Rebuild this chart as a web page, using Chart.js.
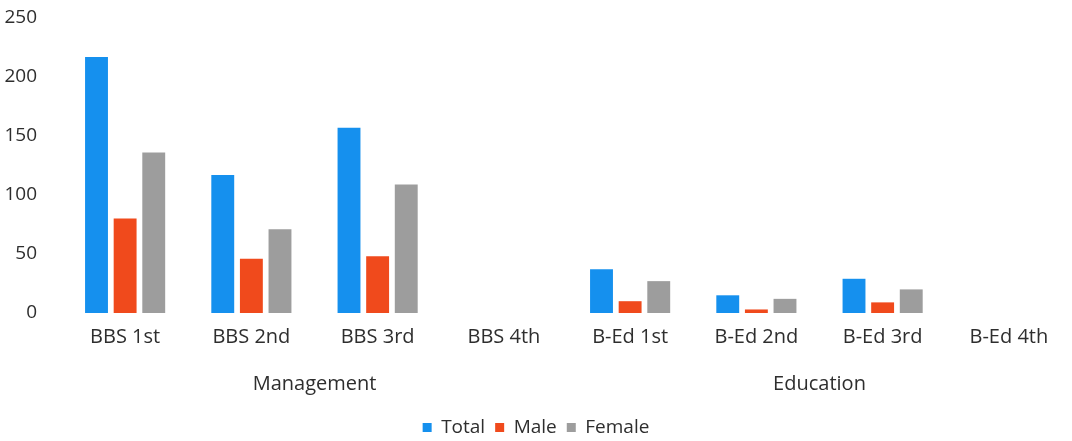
<!DOCTYPE html>
<html>
<head>
<meta charset="utf-8">
<script src="https://cdn.jsdelivr.net/npm/chart.js@4"></script>
<style>
  html, body { margin: 0; padding: 0; background: #fff; }
  #wrap { width: 1072px; height: 441px; }
</style>
</head>
<body>
<div id="wrap"><canvas id="grafico"></canvas></div>
<script>
// Dados
const categorias = ['BBS 1st', 'BBS 2nd', 'BBS 3rd', 'BBS 4th', 'B-Ed 1st', 'B-Ed 2nd', 'B-Ed 3rd', 'B-Ed 4th'];
const grupos = ['Management', 'Education'];
const total = [217, 117, 157, null, 37, 15, 29, null];
const male = [80, 46, 48, null, 10, 3, 9, null];
const female = [136, 71, 109, null, 27, 12, 20, null];
const ticksY = [0, 50, 100, 150, 200, 250];

const fonte = 'Open Sans, Lato, sans-serif';
const corTexto = '#2e2e2e';

new Chart(document.getElementById('grafico'), {
    type: 'bar',
    data: {
        labels: categorias,
        datasets: [
            { label: 'Total', data: total, backgroundColor: '#1590ee' },
            { label: 'Male', data: male, backgroundColor: '#f04a1c' },
            { label: 'Female', data: female, backgroundColor: '#9d9d9d' }
        ]
    },
    options: {
        responsive: true,
        maintainAspectRatio: false,
        animation: false,
        layout: { padding: { top: 18, right: 0, left: 0, bottom: -6 } },
        datasets: { bar: { categoryPercentage: 0.68, barPercentage: 0.8 } },
        scales: {
            y: {
                min: ticksY[0],
                max: ticksY[ticksY.length - 1],
                afterBuildTicks: axis => { axis.ticks = ticksY.map(v => ({ value: v })); },
                afterFit: axis => {
                    axis.width = 62;
                    axis.paddingTop = 0;
                    axis.paddingBottom = 0;
                },
                grid: { display: false },
                border: { display: false },
                ticks: { color: corTexto, font: { family: fonte, size: 19 }, padding: 17 }
            },
            x: {
                afterFit: axis => { axis.height = 48; },
                grid: { display: false },
                border: { display: false },
                ticks: { color: corTexto, font: { family: fonte, size: 20 }, padding: 4, maxRotation: 0 }
            },
            x2: {
                type: 'category',
                position: 'bottom',
                labels: grupos,
                offset: true,
                afterFit: axis => { axis.height = 47; },
                grid: { display: false },
                border: { display: false },
                ticks: { color: corTexto, font: { family: fonte, size: 20 }, padding: 3 }
            }
        },
        plugins: {
            tooltip: { enabled: false },
            legend: {
                position: 'bottom',
                labels: {
                    color: corTexto,
                    font: { family: fonte, size: 19 },
                    boxWidth: 9,
                    boxHeight: 9,
                    padding: 10
                }
            }
        }
    }
});
</script>
</body>
</html>
